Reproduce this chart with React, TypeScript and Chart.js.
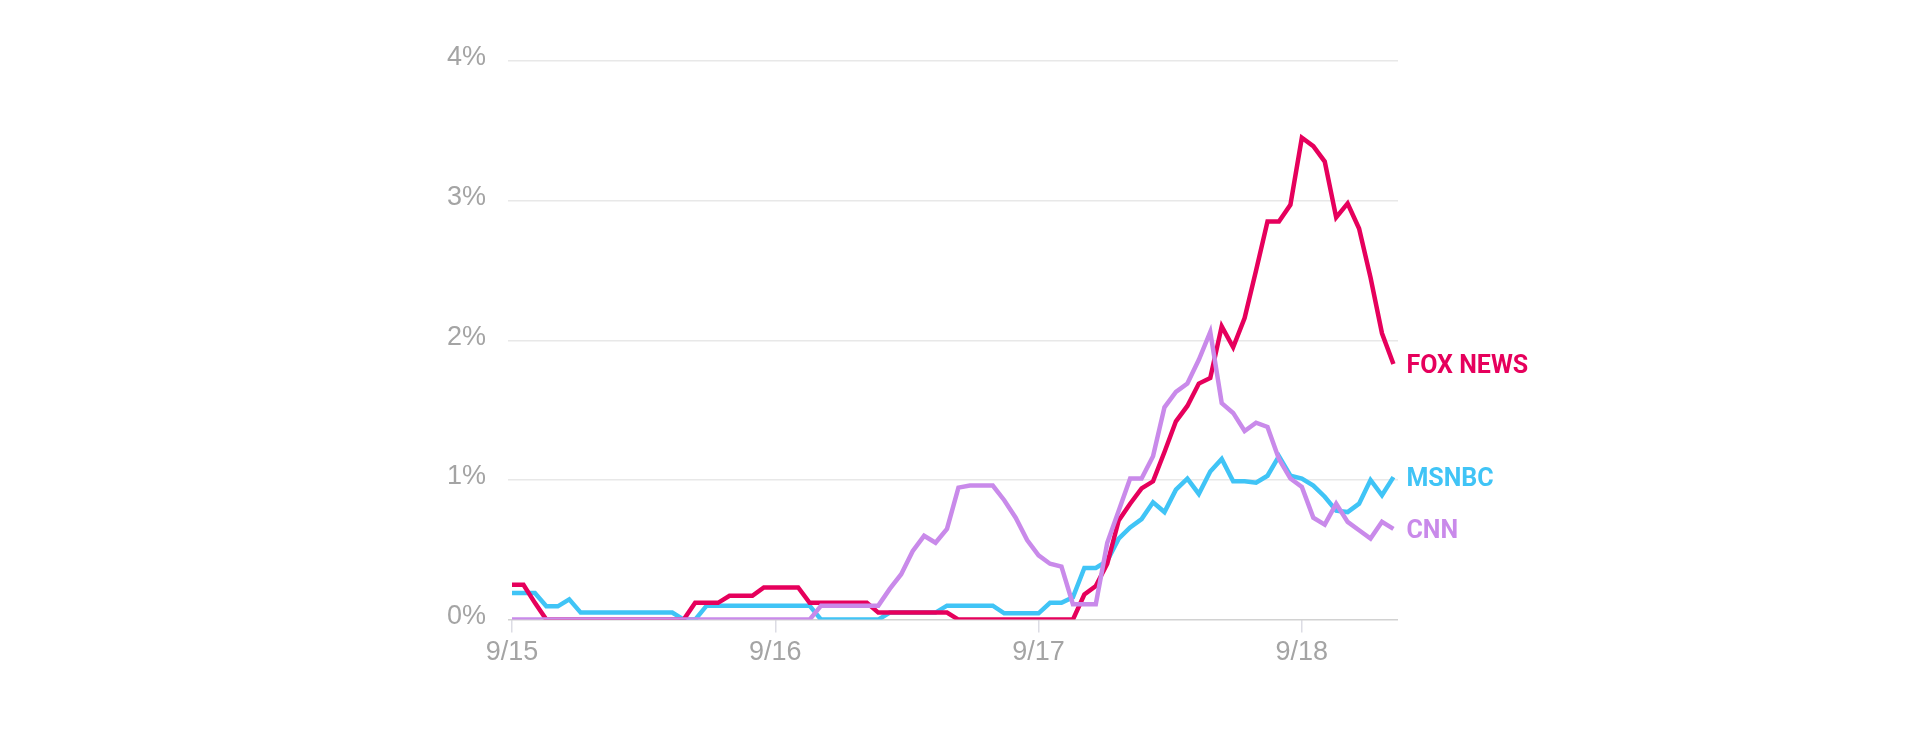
import { useEffect, useRef } from 'react';
import { Chart, registerables } from 'chart.js';

Chart.register(...registerables);

// one sample roughly every hour, 23 samples between day ticks
const dayLabels = ['9/15', '9/16', '9/17', '9/18'];
const samplesPerDay = 23;
const seriesNames = ['FOX NEWS', 'MSNBC', 'CNN'];
const seriesColors = ['#e6005c', '#40c4f6', '#c98aea'];

// share of coverage, in percent
const foxNews = [
  0.25, 0.25, 0.12, 0,
  0, 0, 0, 0, 0, 0, 0, 0, 0, 0, 0, 0,
  0.12, 0.12, 0.12,
  0.17, 0.17, 0.17,
  0.23, 0.23, 0.23, 0.23,
  0.12, 0.12, 0.12, 0.12, 0.12, 0.12,
  0.05, 0.05, 0.05, 0.05, 0.05, 0.05, 0.05,
  0, 0, 0, 0, 0, 0, 0, 0, 0, 0, 0,
  0.18, 0.24, 0.4, 0.71, 0.83, 0.94, 0.99, 1.2, 1.42, 1.53,
  1.69, 1.73, 2.1, 1.95, 2.16, 2.5, 2.85, 2.85, 2.97, 3.45,
  3.39, 3.28, 2.88, 2.98, 2.8, 2.45, 2.05, 1.83,
];

const msnbc = [
  0.19, 0.19, 0.19, 0.095, 0.095, 0.145, 0.05,
  0.05, 0.05, 0.05, 0.05, 0.05, 0.05, 0.05, 0.05,
  0, 0,
  0.1, 0.1, 0.1, 0.1, 0.1, 0.1, 0.1, 0.1, 0.1, 0.1,
  0, 0, 0, 0, 0, 0,
  0.05, 0.05, 0.05, 0.05, 0.05,
  0.1, 0.1, 0.1, 0.1, 0.1,
  0.045, 0.045, 0.045, 0.045,
  0.12, 0.12, 0.16, 0.37, 0.37, 0.42, 0.58, 0.66, 0.72, 0.84,
  0.77, 0.93, 1.01, 0.9, 1.06, 1.15, 0.99, 0.99, 0.98, 1.03,
  1.17, 1.03, 1.01, 0.96, 0.88, 0.78, 0.77, 0.83, 1.0, 0.89, 1.02,
];

const cnn = [
  0, 0, 0, 0, 0, 0, 0, 0, 0, 0, 0, 0, 0, 0, 0, 0, 0, 0, 0, 0, 0, 0, 0, 0, 0, 0, 0,
  0.1, 0.1, 0.1, 0.1, 0.1, 0.1,
  0.22, 0.325, 0.49, 0.6, 0.55, 0.65, 0.945, 0.96, 0.96, 0.96,
  0.855, 0.73, 0.57, 0.46, 0.4, 0.38, 0.11, 0.11, 0.11, 0.55,
  0.78, 1.01, 1.01, 1.17, 1.52, 1.63, 1.69, 1.86, 2.06, 1.55,
  1.48, 1.35, 1.41, 1.38, 1.15, 1.01, 0.95, 0.73, 0.68, 0.83,
  0.7, 0.64, 0.58, 0.7, 0.65,
];

const seriesValues = [foxNews, msnbc, cnn];
// CNN drawn on top, MSNBC at the bottom
const seriesOrder = [2, 3, 1];

const dayTickIndexes = dayLabels.map((_, d) => d * samplesPerDay);

const endLabels = {
  id: 'endLabels',
  afterDatasetsDraw(chart: Chart) {
    const ctx = chart.ctx;
    chart.data.datasets.forEach((ds, i) => {
      const meta = chart.getDatasetMeta(i);
      const last = meta.data[meta.data.length - 1];
      if (!last) return;
      ctx.save();
      ctx.font = 'bold 25px Roboto';
      ctx.fillStyle = ds.borderColor as string;
      ctx.textBaseline = 'middle';
      ctx.textAlign = 'left';
      ctx.fillText(seriesNames[i], last.x + 13, last.y + 3);
      ctx.restore();
    });
  },
};

export default function App() {
  const canvasRef = useRef<HTMLCanvasElement>(null);
  const chartRef = useRef<Chart | null>(null);

  useEffect(() => {
    if (!canvasRef.current) return;
    if (chartRef.current) chartRef.current.destroy();
    const ctx = canvasRef.current.getContext('2d');
    if (!ctx) return;

    const tickFont = { family: '"Liberation Sans", Arial, sans-serif', size: 27 };

    chartRef.current = new Chart(ctx, {
      type: 'line',
      data: {
        datasets: seriesValues.map((values, i) => ({
          label: seriesNames[i],
          data: values.map((y, x) => ({ x, y })),
          borderColor: seriesColors[i],
          backgroundColor: seriesColors[i],
          borderWidth: 4.5,
          pointRadius: 0,
          tension: 0,
          fill: false,
          order: seriesOrder[i],
        })),
      },
      options: {
        responsive: false,
        animation: false,
        devicePixelRatio: 1,
        layout: { padding: { left: 0, right: 522, top: 61, bottom: 0 } },
        plugins: {
          legend: { display: false },
          tooltip: { enabled: false },
        },
        scales: {
          x: {
            type: 'linear',
            min: -0.35,
            max: foxNews.length - 1 + 0.4,
            border: { display: false },
            grid: {
              drawOnChartArea: false,
              drawTicks: true,
              tickLength: 13,
              color: '#dcdce4',
              lineWidth: 1.5,
            },
            ticks: {
              autoSkip: false,
              maxRotation: 0,
              minRotation: 0,
              padding: 4,
              color: '#a4a4a4',
              font: tickFont,
              callback: (v) => dayLabels[Number(v) / samplesPerDay] ?? '',
            },
            afterBuildTicks: (scale) => {
              scale.ticks = dayTickIndexes.map((value) => ({ value }));
            },
            afterFit: (scale) => {
              scale.height = 120.4;
            },
          },
          y: {
            min: 0,
            max: 4,
            border: { display: false },
            grid: {
              drawTicks: false,
              lineWidth: 1.5,
              color: (c) => (c.tick && c.tick.value === 0 ? '#d2d2d2' : '#e8e8e8'),
            },
            ticks: {
              stepSize: 1,
              padding: 22,
              labelOffset: -3,
              color: '#a4a4a4',
              font: tickFont,
              callback: (v) => `${v}%`,
            },
            afterFit: (scale) => {
              scale.width = 508;
            },
          },
        },
      },
      plugins: [endLabels],
    });

    return () => {
      if (chartRef.current) {
        chartRef.current.destroy();
        chartRef.current = null;
      }
    };
  }, []);

  return (
    <div style={{ position: 'fixed', left: 0, top: 0, width: 1920, height: 740, background: '#fff' }}>
      <canvas ref={canvasRef} width={1920} height={740} />
    </div>
  );
}
